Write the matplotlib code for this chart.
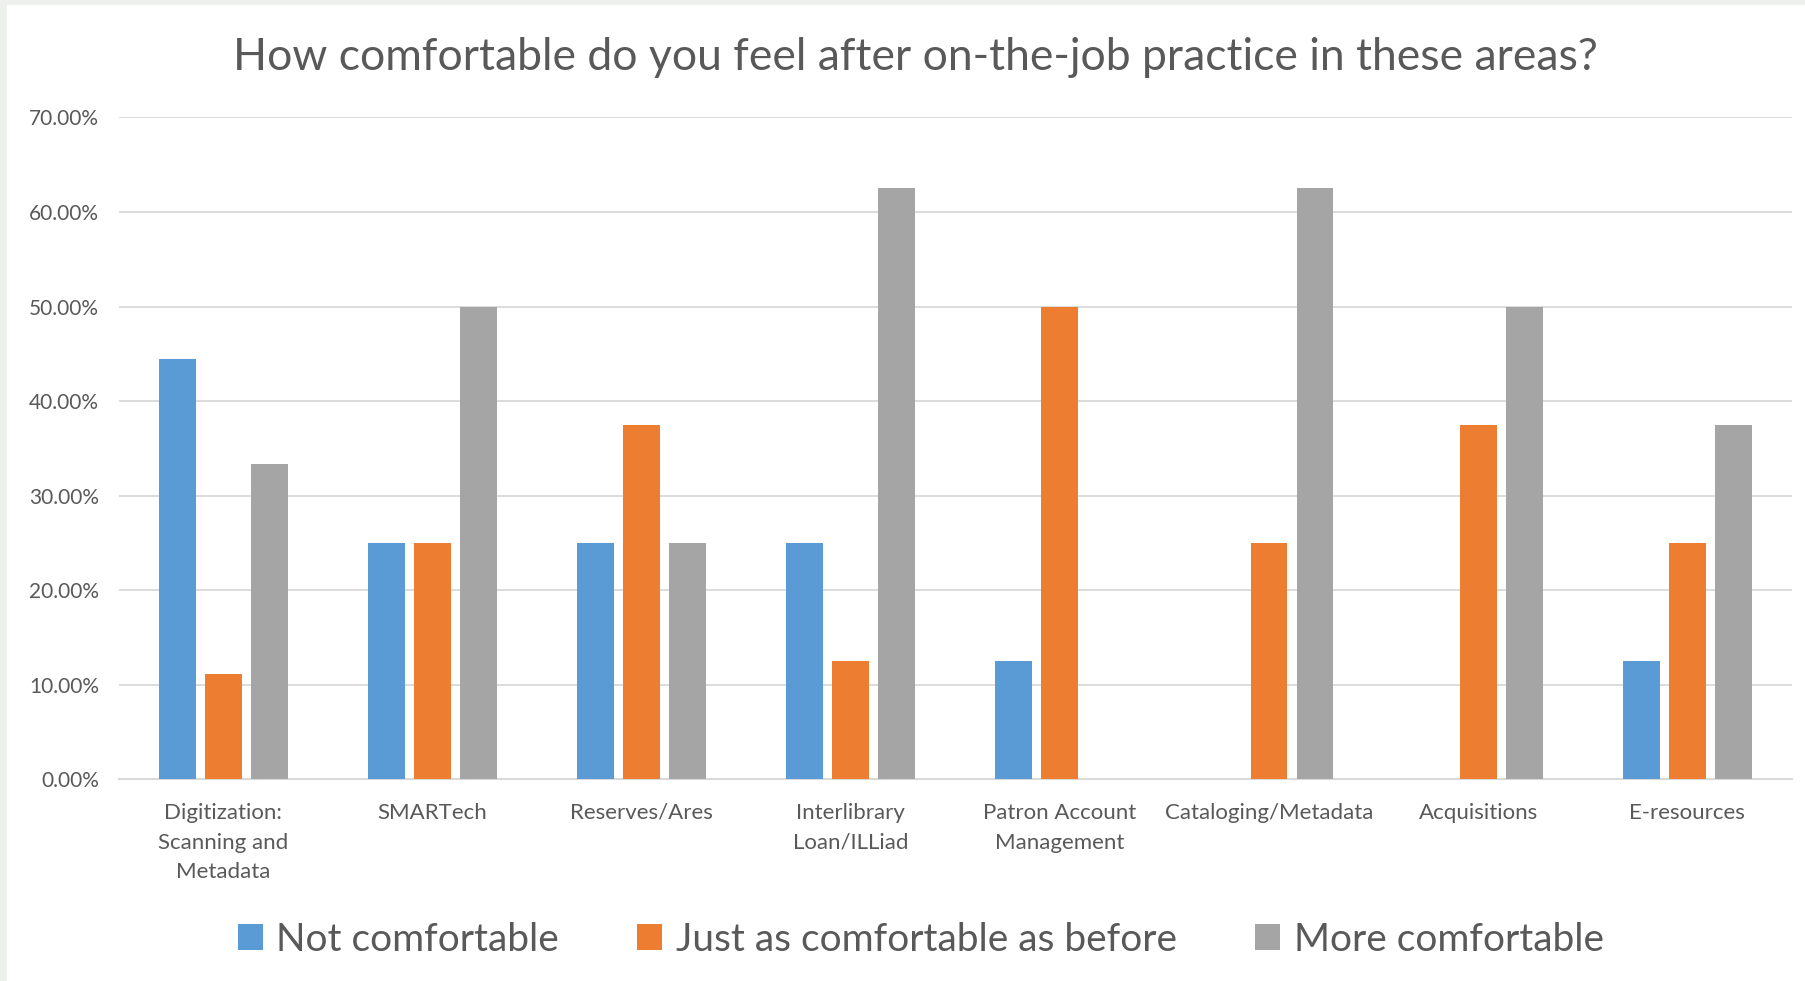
import numpy as np
import matplotlib
matplotlib.use("Agg")
import matplotlib.pyplot as plt
from matplotlib.patches import Patch, Rectangle
from matplotlib.ticker import FuncFormatter


# ---------------------------------------------------------------------
# Data
# ---------------------------------------------------------------------

TITLE = "How comfortable do you feel after on-the-job practice in these areas?"

categories = [
    "Digitization:\nScanning and\nMetadata",
    "SMARTech",
    "Reserves/Ares",
    "Interlibrary\nLoan/ILLiad",
    "Patron Account\nManagement",
    "Cataloging/Metadata",
    "Acquisitions",
    "E-resources",
]

series_names = ["Not comfortable", "Just as comfortable as before", "More comfortable"]

not_comfortable = [44.44, 25.0, 25.0, 25.0, 12.5, 0.0, 0.0, 12.5]
just_as_comfortable = [11.11, 25.0, 37.5, 12.5, 50.0, 25.0, 37.5, 25.0]
more_comfortable = [33.33, 50.0, 25.0, 62.5, 0.0, 62.5, 50.0, 37.5]

y_ticks = [0, 10, 20, 30, 40, 50, 60, 70]


# ---------------------------------------------------------------------
# Style
# ---------------------------------------------------------------------

COLORS = ["#5B9BD5", "#ED7D31", "#A5A5A5"]
TEXT_COLOR = "#595959"
GRID_COLOR = "#D9D9D9"
FONT = ["Lato", "DejaVu Sans"]


def main():
    plt.rcParams["font.family"] = FONT

    fig = plt.figure(figsize=(18.05, 9.81), dpi=100)
    fig.patch.set_facecolor("white")

    # screenshot frame on the left and top
    fig.patches.append(Rectangle((0, 0), 7 / 1805, 1, transform=fig.transFigure,
                                 facecolor="#EEF0EE", edgecolor="none", zorder=0))
    fig.patches.append(Rectangle((0, 1 - 5 / 981), 1, 5 / 981, transform=fig.transFigure,
                                 facecolor="#EEF0EE", edgecolor="none", zorder=0))

    ax = fig.add_axes([0.0657, 0.2056, 0.9271, 0.6747])

    x = np.arange(len(categories))
    width = 0.176
    offsets = [-0.22, 0.0, 0.22]
    all_values = [not_comfortable, just_as_comfortable, more_comfortable]

    for values, off, color, name in zip(all_values, offsets, COLORS, series_names):
        ax.bar(x + off, values, width=width, color=color, label=name, zorder=3)

    ax.set_xlim(-0.5, len(categories) - 0.5)
    ax.set_ylim(0, 70)
    ax.set_yticks(y_ticks)
    ax.yaxis.set_major_formatter(FuncFormatter(lambda v, _: f"{v:.2f}%"))
    ax.set_xticks(x)
    ax.set_xticklabels(categories, linespacing=1.6)

    ax.tick_params(axis="both", length=0, colors=TEXT_COLOR)
    ax.tick_params(axis="x", pad=17, labelsize=16)
    ax.tick_params(axis="y", pad=14, labelsize=15)

    ax.grid(axis="y", color=GRID_COLOR, linewidth=1.3, zorder=0)
    for side in ["top", "right", "left"]:
        ax.spines[side].set_visible(False)
    ax.spines["bottom"].set_color(GRID_COLOR)
    ax.spines["bottom"].set_linewidth(1.5)

    fig.text(0.507, 0.941, TITLE, ha="center", va="center",
             fontsize=32, color=TEXT_COLOR)

    handles = [Patch(facecolor=c, edgecolor="none") for c in COLORS]
    fig.legend(handles, series_names, loc="center", bbox_to_anchor=(0.51, 0.042),
               ncol=3, frameon=False, fontsize=28, labelcolor=TEXT_COLOR,
               handlelength=0.65, handleheight=0.65, handletextpad=0.35,
               columnspacing=2.0)

    fig.savefig("out.png", dpi=100)
    plt.close(fig)


if __name__ == "__main__":
    main()
